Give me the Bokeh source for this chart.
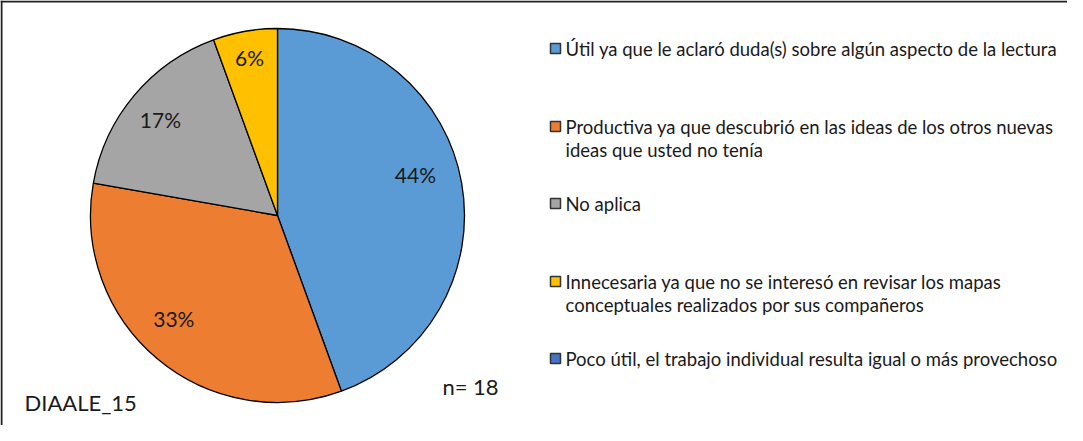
from bokeh.plotting import figure
from bokeh.models import Range1d, Span
from bokeh.core.properties import value
from bokeh.embed import file_html
from bokeh.resources import INLINE
import numpy as np

# ---- data ----
categories = [
    "Útil ya que le aclaró duda(s) sobre algún aspecto de la lectura",
    "Productiva ya que descubrió en las ideas de los otros nuevas\nideas que usted no tenía",
    "No aplica",
    "Innecesaria ya que no se interesó en revisar los mapas\nconceptuales realizados por sus compañeros",
    "Poco útil, el trabajo individual resulta igual o más provechoso",
]
counts = [8, 6, 3, 1, 0]
colors = ["#5B9BD5", "#ED7D31", "#A5A5A5", "#FFC000", "#4472C4"]
n_total = 18
chart_id = "DIAALE_15"

# ---- layout / style ----
W, H = 1067, 425
FONT = "Lato"
cx, cy, R = 277, 210, 187
label_r = [0.77, 0.78, 0.81, 0.86, 0.8]          # label distance (fraction of radius)
label_dang = [6.7, -5.3, 0.6, 0.0, 0.0]           # label angle offset (degrees)

p = figure(width=W, height=H, output_backend="svg", toolbar_location=None,
           x_range=Range1d(0, W), y_range=Range1d(0, H), min_border=0)
p.axis.visible = False
p.grid.visible = False
p.outline_line_color = None
p.background_fill_color = "white"

# chart border (top & left visible in reference)
p.add_layout(Span(location=H - 1, dimension="width", line_color="#222222", line_width=2))
p.add_layout(Span(location=1, dimension="height", line_color="#222222", line_width=2))

total = sum(counts)
fr = np.array(counts) / total
ends = np.pi / 2 - np.cumsum(fr) * 2 * np.pi
starts = np.concatenate([[np.pi / 2], ends[:-1]])

for i in range(len(counts)):
    if counts[i] == 0:
        continue
    p.wedge(x=cx, y=cy, radius=R, start_angle=ends[i], end_angle=starts[i],
            fill_color=colors[i], line_color="black", line_width=1.3)

for i in range(len(counts)):
    if counts[i] == 0:
        continue
    mid = (starts[i] + ends[i]) / 2 + np.radians(label_dang[i])
    lx = cx + label_r[i] * R * np.cos(mid)
    ly = cy + label_r[i] * R * np.sin(mid)
    pct = round(100 * counts[i] / total)
    p.text(x=[lx], y=[ly], text=[f"{pct}%"], text_align="center", text_baseline="middle",
           text_font=value(FONT), text_font_size="21px", text_color="#1a1a1a")

# legend
sq_x = 555
txt_x = 565
leg_y = [377, 299, 222, 144, 67]
line_gap = 23.5
for i, cat in enumerate(categories):
    p.rect(x=[sq_x], y=[leg_y[i]], width=10, height=10, width_units="screen",
           height_units="screen", fill_color=colors[i], line_color="#333333", line_width=1.5)
    for k, line in enumerate(cat.split("\n")):
        p.text(x=[txt_x], y=[leg_y[i] - k * line_gap], text=[line], text_align="left",
               text_baseline="middle", text_font=value(FONT), text_font_size="18.5px",
               text_color="#1a1a1a")

p.text(x=[470], y=[39], text=[f"n= {n_total}"], text_align="center", text_baseline="middle",
       text_font=value(FONT), text_font_size="22px", text_color="#1a1a1a")
p.text(x=[24], y=[23], text=[chart_id], text_align="left", text_baseline="middle",
       text_font=value(FONT), text_font_size="22px", text_color="#1a1a1a")

open("out.html", "w").write(file_html(p, INLINE))
